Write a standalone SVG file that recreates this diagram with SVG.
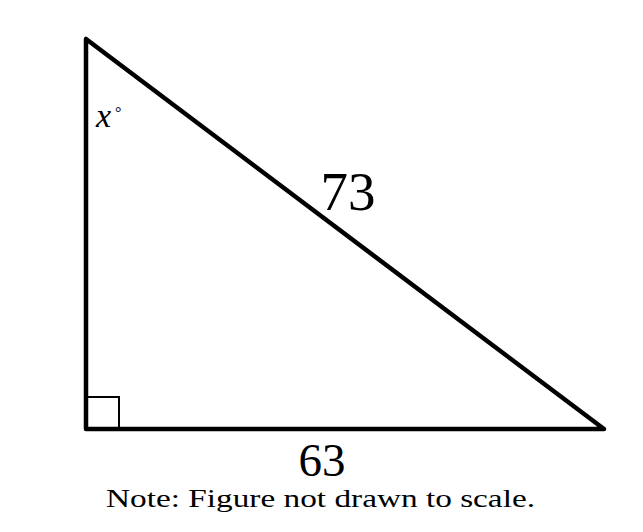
<svg xmlns="http://www.w3.org/2000/svg" width="643" height="532" viewBox="0 0 643 532">
<style>
.t{font-family:"Liberation Serif","DejaVu Serif",serif;fill:#000}
</style>
<rect width="643" height="532" fill="#fff"/>
<g id="connectors">
<polygon id="triangle" points="86,39 86,429 604,429" fill="none" stroke="#000" stroke-width="4.5" stroke-linejoin="round"/>
<polyline id="right-angle" points="87,397 119,397 119,428" fill="none" stroke="#000" stroke-width="2"/>
</g>
<g id="label-x"><text class="t" x="96" y="127" font-size="34" font-style="italic">x</text><text class="t" x="115" y="118" font-size="16">°</text></g>
<g id="label-73"><text class="t" x="348" y="210" font-size="55" text-anchor="middle">73</text></g>
<g id="label-63"><text class="t" x="322" y="476" font-size="47" text-anchor="middle">63</text></g>
<g id="note"><text class="t" x="106" y="507" font-size="26" textLength="429" lengthAdjust="spacingAndGlyphs">Note: Figure not drawn to scale.</text></g>
</svg>
